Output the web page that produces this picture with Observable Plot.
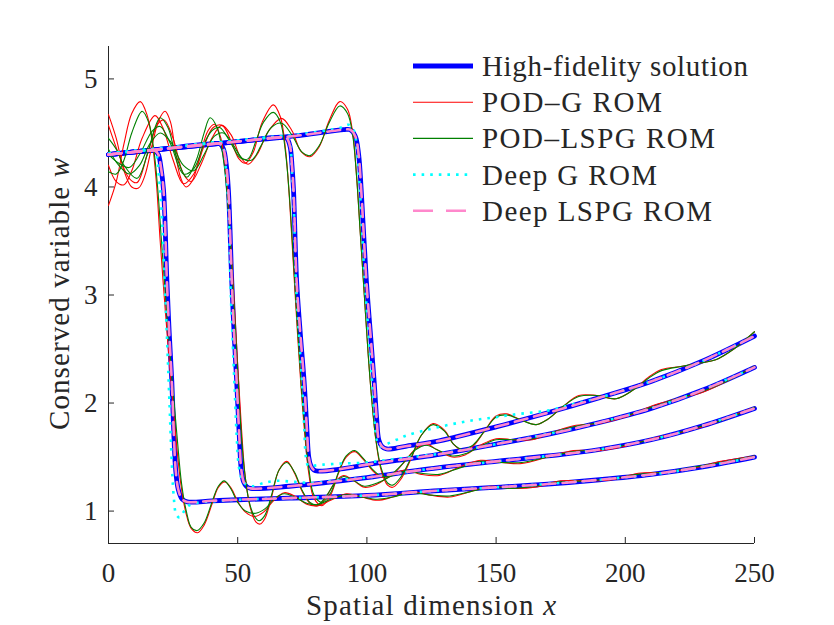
<!DOCTYPE html>
<html>
<head>
<meta charset="utf-8">
<script src="https://cdn.jsdelivr.net/npm/d3@7"></script>
<script src="https://cdn.jsdelivr.net/npm/@observablehq/plot@0.6"></script>
<style>
  body { margin: 0; background: #fff; }
  #chart { width: 834px; height: 625px; }
  #chart svg { display: block; }
</style>
</head>
<body>
<div id="chart"></div>
<script>
// Burgers-type shock at four time instants: high-fidelity solution and four reduced-order models.
const xTicks = [0, 50, 100, 150, 200, 250];
const yTicks = [1, 2, 3, 4, 5];
const xDomain = [0, 250];
const yDomain = [0.7, 5.3];

const legendLabels = ["High-fidelity solution", "POD\u2013G ROM", "POD\u2013LSPG ROM", "Deep G ROM", "Deep LSPG ROM"];

// High-fidelity solution, [x, w] per snapshot
const hfT1 = [[0,4.30],[8,4.32],[15,4.335],[18,4.335],[19.3,4.30],[20.3,4.18],[21.3,3.97],[22.6,3.13],[23.5,2.65],[24.5,2.2],[25.3,1.7],[26,1.38],[27,1.2],[28.5,1.11],[30.5,1.085],[40,1.095],[50,1.105],[70,1.12],[100,1.145],[128,1.19],[150,1.22],[170,1.25],[190,1.29],[210,1.34],[230,1.41],[250,1.50]];
const hfT2 = [[0,4.30],[20,4.35],[40,4.40],[43,4.40],[44.5,4.35],[45.5,4.22],[46.4,3.97],[47.7,3.13],[48.6,2.65],[49.6,2.2],[50.6,1.7],[51.4,1.38],[52.3,1.27],[53.5,1.225],[55,1.21],[70,1.23],[100,1.31],[124,1.39],[150,1.46],[170,1.51],[190,1.57],[210,1.66],[230,1.79],[250,1.95]];
const hfT3 = [[0,4.30],[25,4.36],[50,4.42],[67,4.46],[69,4.45],[70.3,4.37],[71,4.2],[71.6,3.97],[72.8,3.13],[74.2,2.65],[75.7,2.2],[76.8,1.75],[77.5,1.5],[78.3,1.42],[79.5,1.38],[81,1.37],[90,1.39],[100,1.43],[128,1.526],[150,1.62],[170,1.71],[190,1.82],[210,1.95],[230,2.12],[250,2.33]];
const hfT4 = [[0,4.30],[25,4.36],[50,4.42],[75,4.48],[91,4.53],[93.5,4.53],[95.5,4.47],[96.8,4.3],[97.8,3.97],[99.8,3.13],[101.5,2.6],[102.8,2.2],[103.8,1.85],[104.6,1.66],[105.8,1.6],[107.6,1.575],[115,1.60],[128,1.65],[150,1.78],[170,1.91],[190,2.05],[210,2.20],[230,2.39],[250,2.62]];

// POD-Galerkin ROM
const podGT1 = [[0,3.83],[3,4.05],[6,4.4],[9,4.68],[12.3,4.79],[15,4.66],[17,4.4],[18.5,4.05],[20,3.5],[22,2.85],[24,2.25],[26,1.7],[28,1.25],[30,0.98],[32,0.84],[34.5,0.80],[37,0.87],[40,1.06],[42.5,1.22],[45,1.27],[47.5,1.21],[50,1.09],[53,0.99],[56.5,0.95],[60,0.99],[64,1.10],[68,1.17],[72,1.14],[77,1.06],[81,1.05],[86,1.10],[92,1.16],[98,1.13],[104,1.10],[110,1.13],[117,1.18],[124,1.15],[132,1.13],[140,1.18],[148,1.23],[156,1.21],[165,1.22],[175,1.28],[185,1.28],[195,1.29],[205,1.35],[215,1.36],[225,1.39],[237,1.46],[250,1.51]];
const podGT2 = [[0,4.67],[3,4.45],[6,4.15],[9,4.0],[11.6,3.99],[14,4.1],[17,4.4],[19.5,4.62],[21.9,4.70],[24,4.6],[26,4.3],[28,4.08],[30,4.0],[32.5,4.06],[35.5,4.3],[38.5,4.52],[41,4.58],[43.5,4.45],[45.5,4.1],[47,3.6],[48.5,3.0],[50,2.35],[51.5,1.75],[53,1.3],[55,1.02],[57,0.9],[58.6,0.88],[60.5,0.93],[63,1.12],[66,1.38],[69,1.46],[72,1.35],[75,1.18],[78,1.07],[81,1.05],[84,1.12],[88,1.28],[91,1.33],[95,1.28],[99,1.22],[104,1.25],[110,1.34],[115,1.38],[121,1.34],[128,1.33],[136,1.41],[144,1.47],[152,1.45],[160,1.44],[170,1.50],[180,1.56],[190,1.56],[200,1.60],[210,1.67],[220,1.72],[230,1.78],[240,1.87],[250,1.96]];
const podGT3 = [[0,4.20],[3,4.05],[6,4.02],[9,4.15],[13,4.45],[18,4.66],[21,4.55],[25,4.25],[29,4.03],[33,4.12],[37,4.38],[40.5,4.55],[44,4.57],[47.5,4.42],[50.5,4.26],[53,4.22],[56,4.32],[59.5,4.6],[63.8,4.76],[66.5,4.65],[68.5,4.35],[70,3.9],[71.5,3.3],[73,2.7],[74.5,2.15],[76,1.7],[77.5,1.35],[79.5,1.12],[82.6,1.05],[86,1.15],[89,1.35],[92,1.5],[95.3,1.55],[98.5,1.48],[102,1.38],[105,1.32],[108,1.31],[111,1.36],[115,1.47],[119,1.58],[123,1.62],[127,1.57],[133,1.50],[138,1.52],[144,1.61],[150,1.67],[157,1.66],[164,1.66],[172,1.73],[180,1.79],[190,1.81],[200,1.87],[210,1.97],[220,2.04],[230,2.10],[240,2.21],[250,2.34]];
const podGT4 = [[0,4.57],[4,4.3],[8,4.08],[11,4.04],[15,4.3],[19,4.58],[21.5,4.62],[25,4.45],[29,4.12],[32,4.05],[36,4.22],[40,4.45],[43.8,4.57],[47.5,4.48],[51,4.28],[54,4.21],[57.5,4.3],[62,4.52],[67,4.635],[71,4.52],[74.5,4.33],[78,4.28],[81.5,4.37],[85.5,4.62],[89.5,4.79],[92.5,4.72],[94.5,4.5],[96,4.1],[97.5,3.55],[99,3.0],[100.5,2.45],[102,2.0],[103.5,1.65],[105.5,1.38],[108,1.24],[110,1.22],[113,1.29],[117,1.48],[121,1.7],[125.6,1.81],[130,1.75],[133.5,1.62],[137,1.56],[141,1.6],[145.5,1.74],[150,1.88],[154,1.90],[159,1.85],[165.5,1.80],[170,1.85],[176,1.97],[182,2.07],[189,2.07],[196.4,2.04],[203,2.12],[209,2.24],[214,2.31],[222,2.34],[229,2.37],[235,2.40],[242,2.50],[250,2.66]];

// POD least-squares Petrov-Galerkin ROM
const podLT1 = [[0,4.14],[3,4.12],[6,4.25],[9,4.5],[13,4.70],[15.5,4.6],[17.5,4.35],[19,4.0],[20.5,3.5],[22.5,2.85],[24.5,2.25],[26.5,1.7],[28.3,1.25],[30.2,0.99],[32,0.85],[34.3,0.82],[37,0.89],[40,1.08],[42.5,1.23],[44.8,1.28],[47.5,1.2],[50,1.08],[53,1.0],[57,0.98],[60.5,1.02],[64.5,1.12],[68,1.16],[72,1.13],[77,1.07],[81,1.06],[86,1.11],[92,1.15],[98,1.13],[104,1.11],[110,1.13],[117,1.17],[124,1.15],[132,1.14],[140,1.18],[148,1.22],[156,1.21],[165,1.23],[175,1.27],[185,1.28],[195,1.30],[205,1.34],[215,1.36],[225,1.40],[237,1.45],[250,1.51]];
const podLT2 = [[0,4.45],[3,4.35],[6,4.2],[11,4.08],[15,4.3],[18,4.55],[20,4.64],[23,4.55],[26,4.3],[30.3,4.09],[34,4.25],[37,4.5],[39.3,4.64],[42,4.55],[44.5,4.25],[46.5,3.75],[48,3.15],[49.5,2.5],[51,1.85],[52.5,1.4],[54.5,1.08],[56.5,0.95],[58.3,0.91],[60.5,0.96],[63,1.14],[66,1.38],[69,1.45],[72,1.36],[75,1.19],[78,1.08],[81,1.06],[84,1.13],[88,1.27],[91,1.32],[95,1.28],[99,1.23],[104,1.26],[110,1.33],[115,1.37],[121,1.35],[128,1.34],[136,1.40],[144,1.46],[152,1.45],[160,1.45],[170,1.50],[180,1.55],[190,1.57],[200,1.61],[210,1.66],[220,1.72],[230,1.79],[240,1.86],[250,1.96]];
const podLT3 = [[0,4.30],[4,4.22],[8,4.18],[12,4.3],[17,4.52],[20,4.56],[24,4.4],[29,4.12],[33,4.17],[37,4.4],[40,4.52],[43,4.55],[47,4.42],[51,4.27],[54,4.26],[57,4.42],[60,4.6],[63.8,4.69],[66.5,4.6],[68.5,4.32],[70,3.92],[71.5,3.35],[73,2.75],[74.5,2.2],[76,1.75],[77.5,1.4],[79.5,1.15],[82.6,1.08],[86,1.17],[89,1.36],[92,1.51],[95.3,1.56],[98.5,1.49],[102,1.39],[105,1.33],[108,1.32],[111,1.37],[115,1.47],[119,1.57],[123,1.61],[127,1.57],[133,1.51],[138,1.53],[144,1.60],[150,1.66],[157,1.66],[164,1.67],[172,1.73],[180,1.78],[190,1.82],[200,1.88],[210,1.96],[220,2.04],[230,2.11],[240,2.21],[250,2.34]];
const podLT4 = [[0,4.35],[4,4.2],[8,4.12],[12,4.2],[16,4.4],[20,4.5],[24,4.42],[29,4.2],[33,4.15],[37,4.3],[41,4.47],[44.5,4.5],[48,4.4],[52,4.26],[55.5,4.25],[59,4.38],[63,4.55],[67,4.59],[71,4.48],[75,4.32],[78,4.29],[81.5,4.38],[85.5,4.6],[89.5,4.75],[92.5,4.68],[94.5,4.48],[96,4.1],[97.5,3.55],[99,3.0],[100.5,2.45],[102,2.0],[103.5,1.66],[105.5,1.4],[108,1.26],[110,1.24],[113,1.31],[117,1.49],[121,1.7],[125.6,1.80],[130,1.74],[133.5,1.62],[137,1.57],[141,1.61],[145.5,1.74],[150,1.87],[154,1.89],[159,1.85],[165.5,1.80],[170,1.85],[176,1.97],[182,2.06],[189,2.07],[196.4,2.04],[203,2.12],[209,2.23],[214,2.30],[222,2.34],[229,2.37],[235,2.40],[242,2.50],[250,2.66]];

// Deep Galerkin ROM
const deepGT1 = [[0,4.31],[10,4.33],[17,4.34],[18.5,4.3],[19.5,4.1],[20.5,3.8],[21.8,3.1],[22.8,2.5],[23.6,2.0],[24.4,1.5],[25.2,1.15],[26.2,0.97],[27.5,0.94],[29,0.99],[31,1.05],[35,1.08],[40,1.09],[50,1.105],[70,1.12],[100,1.145],[128,1.19],[150,1.22],[190,1.29],[220,1.37],[250,1.50]];
const deepGT2 = [[0,4.31],[20,4.35],[40,4.41],[43,4.42],[44.5,4.36],[45.5,4.15],[46.5,3.8],[47.2,3.1],[48,2.6],[48.8,2.15],[49.6,1.7],[50.4,1.42],[51.5,1.3],[53,1.25],[56,1.23],[60,1.26],[65,1.28],[72,1.27],[80,1.26],[90,1.29],[100,1.31],[124,1.39],[150,1.46],[190,1.57],[220,1.72],[250,1.95]];
const deepGT3 = [[0,4.31],[25,4.37],[50,4.43],[67,4.47],[69,4.47],[70.3,4.38],[71,4.15],[71.6,3.9],[72.6,3.1],[73.8,2.6],[75,2.15],[75.8,1.75],[76.4,1.5],[77.3,1.42],[79,1.42],[83,1.43],[90,1.44],[100,1.45],[110,1.48],[128,1.53],[150,1.62],[190,1.82],[220,2.03],[250,2.33]];
const deepGT4 = [[0,4.31],[25,4.37],[50,4.43],[75,4.49],[90,4.55],[93,4.575],[95,4.52],[96.3,4.3],[97.3,3.97],[99.2,3.13],[100.8,2.6],[102,2.2],[103,1.85],[103.8,1.66],[105,1.6],[107.6,1.62],[111.4,1.66],[115.3,1.70],[123,1.75],[132,1.80],[141,1.84],[150,1.87],[159,1.90],[170,1.93],[180,1.99],[190,2.05],[210,2.20],[230,2.39],[250,2.62]];

// Deep LSPG ROM (indistinguishable from the high-fidelity curve at this scale)
const deepLT1 = hfT1;
const deepLT2 = hfT2;
const deepLT3 = hfT3;
const deepLT4 = hfT4;

// Flatten [x, w] snapshots into rows with a snapshot key
function rows(snapshots) {
  return snapshots.flatMap((pts, i) => pts.map(([x, w]) => ({x, w, snap: i})));
}

// Pick the first installed serif face (compared against two fallbacks)
function installed(name) {
  const ctx = document.createElement("canvas").getContext("2d");
  const probe = "Spatial dimension 0123456789 wxROM";
  return ["monospace", "sans-serif"].some(fallback => {
    ctx.font = `40px ${fallback}`;
    const base = ctx.measureText(probe).width;
    ctx.font = `40px "${name}", ${fallback}`;
    return Math.abs(ctx.measureText(probe).width - base) > 0.5;
  });
}
const serifFace = ["Liberation Serif", "DejaVu Serif", "Noto Serif", "Times New Roman", "Tinos", "FreeSerif"].find(installed);
const FONT = serifFace ? `"${serifFace}", serif` : "serif";
const INK = "#262626";

const styles = {
  hf:    {stroke: "#0000ff", strokeWidth: 4.8},
  podG:  {stroke: "#ff0000", strokeWidth: 1.1},
  podL:  {stroke: "#008000", strokeWidth: 1.1},
  deepG: {stroke: "#00ffff", strokeWidth: 2.6, strokeDasharray: "2.6,6", strokeLinecap: "butt"},
  deepL: {stroke: "#ff88cc", strokeWidth: 2.6, strokeDasharray: "13,7"}
};

const lineOpts = (st) => ({x: "x", y: "w", z: "snap", curve: "catmull-rom", ...st});

const plot = Plot.plot({
  width: 834,
  height: 625,
  marginLeft: 108,
  marginRight: 80,
  marginTop: 46,
  marginBottom: 82,
  style: {fontFamily: FONT, fontSize: "27px", color: INK, background: "#ffffff"},
  x: {domain: xDomain, label: null},
  y: {domain: yDomain, label: null},
  marks: [
    Plot.axisX(xTicks, {tickSize: 6, tickPadding: 13, fontSize: 27, fontFamily: FONT, stroke: INK, fill: INK, tickFormat: d => String(d), label: null}),
    Plot.axisY(yTicks, {tickSize: 6, tickPadding: 5, fontSize: 27, fontFamily: FONT, stroke: INK, fill: INK, tickFormat: d => String(d), label: null}),
    Plot.ruleX([xDomain[0]], {stroke: INK, strokeWidth: 1}),
    Plot.ruleY([yDomain[0]], {stroke: INK, strokeWidth: 1}),
    Plot.line(rows([hfT1, hfT2, hfT3, hfT4]), lineOpts(styles.hf)),
    Plot.line(rows([podGT1, podGT2, podGT3, podGT4]), lineOpts(styles.podG)),
    Plot.line(rows([podLT1, podLT2, podLT3, podLT4]), lineOpts(styles.podL)),
    Plot.line(rows([deepGT1, deepGT2, deepGT3, deepGT4]), lineOpts(styles.deepG)),
    Plot.line(rows([deepLT1, deepLT2, deepLT3, deepLT4]), lineOpts(styles.deepL))
  ]
});

document.getElementById("chart").appendChild(plot);

const svg = d3.select(plot);

// Ticks point into the plot area
svg.selectAll('g[aria-label="x-axis tick"] path').attr("d", "M0,0L0,-6");
svg.selectAll('g[aria-label="y-axis tick"] path').attr("d", "M0,0L6,0");

// Axis titles with italic variable names
const xt = svg.append("text")
  .attr("x", 431).attr("y", 605)
  .attr("text-anchor", "middle").attr("dominant-baseline", "central")
  .style("font-family", FONT).attr("font-size", 29).attr("fill", INK)
  .attr("textLength", 250).attr("lengthAdjust", "spacing");
xt.append("tspan").text("Spatial dimension ");
xt.append("tspan").attr("font-style", "italic").text("x");

const yt = svg.append("text")
  .attr("transform", "translate(59,294) rotate(-90)")
  .attr("text-anchor", "middle").attr("dominant-baseline", "central")
  .style("font-family", FONT).attr("font-size", 29).attr("fill", INK)
  .attr("textLength", 272).attr("lengthAdjust", "spacing");
yt.append("tspan").text("Conserved variable ");
yt.append("tspan").attr("font-style", "italic").text("w");

// Legend inside the upper-right corner of the axes
const legendStyles = [styles.hf, styles.podG, styles.podL, styles.deepG, {...styles.deepL, strokeDasharray: "20,13"}];
const legendWidths = [266, 180, 233, 175, 230];
const lg = svg.append("g").attr("aria-label", "legend");
legendLabels.forEach((label, i) => {
  const y = 66 + i * 36.2;
  const st = legendStyles[i];
  lg.append("line")
    .attr("x1", 413).attr("x2", 473).attr("y1", y).attr("y2", y)
    .attr("stroke", st.stroke).attr("stroke-width", st.strokeWidth)
    .attr("stroke-dasharray", st.strokeDasharray || null);
  lg.append("text")
    .attr("x", 482).attr("y", y)
    .attr("text-anchor", "start").attr("dominant-baseline", "central")
    .style("font-family", FONT).attr("font-size", 29).attr("fill", INK)
    .attr("textLength", legendWidths[i]).attr("lengthAdjust", "spacing")
    .text(label);
});
</script>
</body>
</html>
